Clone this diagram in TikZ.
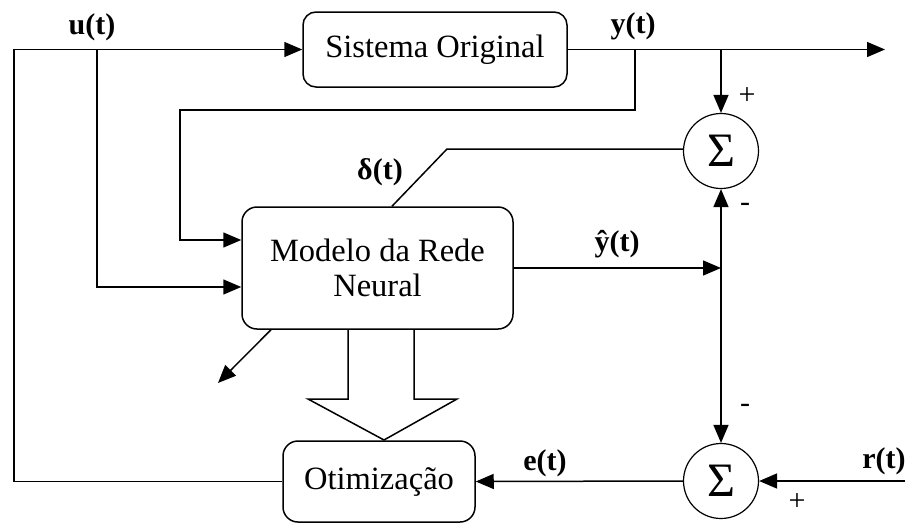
\documentclass[tikz,border=0pt]{standalone}
\usepackage{fontspec}
\setmainfont{Liberation Serif}
\usetikzlibrary{arrows.meta}
\tikzset{
  ln/.style={line width=1.5pt, line join=miter},
  arr/.style={ln, -{Triangle[length=18pt,width=15pt]}},
  blk/.style={draw, ln, rounded corners=13pt, inner sep=0pt, align=center,
              font=\fontsize{32.5}{38}\selectfont},
  sum/.style={draw, circle, line width=1.2pt, minimum size=75pt, inner sep=0pt,
              font=\fontsize{48}{48}\selectfont},
  lbl/.style={font=\fontsize{30}{32}\selectfont\bfseries, inner sep=0pt},
  sgn/.style={font=\fontsize{30}{30}\selectfont, inner sep=0pt}
}
\begin{document}
\begin{tikzpicture}[x=1pt,y=-1pt]
\useasboundingbox (0,0) rectangle (905,523);
% blocks
\node[blk, minimum width=264pt, minimum height=75pt] (sys) at (435,49.5) {Sistema Original};
\node[blk, minimum width=271pt, minimum height=122pt, rounded corners=15pt] (model) at (377.5,268) {Modelo da Rede\\[-3pt]Neural};
\node[blk, minimum width=192pt, minimum height=81pt, rounded corners=15pt] (opt) at (379,481.5) {Otimização};
\node[sum] (s1) at (721,151) {Σ};
\node[sum] (s2) at (721,481) {Σ};
% coordinates
\coordinate (fbl) at (14,481.5);
\coordinate (fbt) at (14,49.5);
\coordinate (ub) at (97,49.5);
\coordinate (yb) at (635,49.5);
\coordinate (yc1) at (635,110);
\coordinate (yc2) at (180,110);
\coordinate (yout) at (885,49.5);
\coordinate (s1b) at (721,49.5);
\coordinate (dk) at (447,149);
\coordinate (yj) at (721,268);
\coordinate (rin) at (905,481);
\coordinate (dtip) at (218,383);
% connectors
\draw[arr] (opt.west) -- (fbl) -- (fbt) -- (sys.west);
\draw[arr] (ub) |- ([yshift=-19pt]model.west);
\draw[arr] (yb) -- (yc1) -- (yc2) |- ([yshift=28pt]model.west);
\draw[arr] (sys.east) -- (yout);
\draw[arr] (s1b) -- (s1.north);
\draw[ln] ([yshift=2pt]s1.west) -- (dk) -- ([xshift=14.5pt]model.north);
\draw[arr] (model.east) -- (yj);
\draw[arr] (yj) -- (s1.south);
\draw[arr] (yj) -- (s2.north);
\draw[arr] (rin) -- (s2.east);
\draw[arr] (s2.west) -- (opt.east);
\draw[arr] ([xshift=-106.5pt]model.south) -- (dtip);
% hollow arrow
\draw[ln] (348,329) -- (348,399) -- (308,399) -- (384,440) -- (457,399) -- (414,399) -- (414,329);
% labels
\node[lbl] (lu) at (92,27) {u(t)};
\node[lbl] (ly) at (633,26) {y(t)};
\node[lbl] (ld) at (380,172) {δ(t)};
\node[lbl] (lyh) at (617,244) {ŷ(t)};
\node[lbl] (le) at (545,463) {e(t)};
\node[lbl] (lr) at (884,461) {r(t)};
\node[sgn] (p1) at (747,96) {+};
\node[sgn] (m1) at (745,207) {-};
\node[sgn] (m2) at (745,408) {-};
\node[sgn] (p2) at (797,502) {+};
\end{tikzpicture}
\end{document}
